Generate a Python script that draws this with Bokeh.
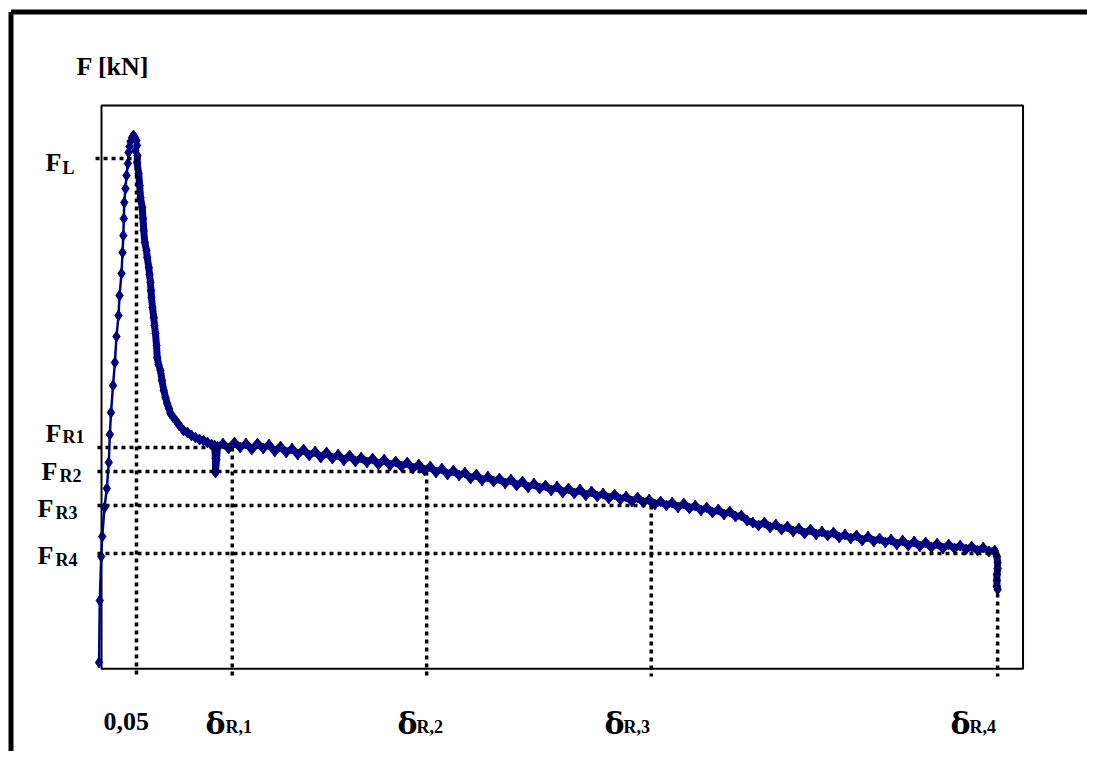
from bokeh.plotting import figure
from bokeh.models import Range1d, ColumnDataSource
from bokeh.core.properties import value
from bokeh.embed import file_html
from bokeh.resources import INLINE

# ---- data: deflection delta [mm] vs load F [kN] ----
rise_x = [-0.002, -0.001, 0.001, 0.0024, 0.0056, 0.0088, 0.0115, 0.013, 0.0146, 0.0174, 0.020,
          0.0222, 0.025, 0.0264, 0.0292, 0.0306, 0.0317, 0.0324, 0.033, 0.0347, 0.0361, 0.038, 0.039]
rise_y = [0.3, 3.4, 5.6, 6.6, 8.05, 9.0, 10.3, 11.7, 12.8, 14.15, 15.3,
          16.6, 17.65, 18.65, 19.75, 20.8, 21.65, 22.5, 23.3, 24.0, 24.65, 25.25, 25.8]

peak_x = [0.0403, 0.0417, 0.0438, 0.0458, 0.0479, 0.05, 0.0507, 0.0486, 0.0514]
peak_y = [26.1, 26.35, 26.55, 26.65, 26.55, 26.4, 26.15, 25.9, 25.65]

desc_x = [0.0508, 0.053, 0.0544, 0.0556, 0.0579, 0.059, 0.0601, 0.0615, 0.0639, 0.0649, 0.0671,
          0.068, 0.0694, 0.0701, 0.0708, 0.0722, 0.074, 0.075, 0.0764, 0.0778, 0.0788, 0.0806,
          0.0833, 0.0854, 0.0879, 0.0903, 0.0926, 0.0951, 0.0972, 0.1014, 0.1056, 0.1097, 0.1153,
          0.1208, 0.1264, 0.1319, 0.1375, 0.1431, 0.1486, 0.1542, 0.1583,
          0.1597, 0.1597, 0.1611, 0.1625]
desc_y = [25.3, 24.75, 24.15, 23.55, 23.05, 22.5, 21.9, 21.3, 20.9, 20.55, 20.05,
          19.7, 19.3, 18.9, 18.55, 18.05, 17.55, 17.15, 16.75, 16.15, 15.55, 15.2,
          14.9, 14.4, 13.9, 13.55, 13.25, 13.0, 12.75, 12.55, 12.35, 12.15, 11.9,
          11.8, 11.65, 11.55, 11.45, 11.4, 11.3, 11.2, 11.15,
          10.5, 9.8, 10.45, 11.1]

plat_x = [0.170, 0.178, 0.186, 0.194, 0.202, 0.210, 0.218, 0.226, 0.234, 0.242,
          0.250, 0.258, 0.266, 0.274, 0.282, 0.290, 0.298, 0.306, 0.314, 0.322,
          0.330, 0.338, 0.346, 0.354, 0.362, 0.370, 0.378, 0.386, 0.394, 0.402,
          0.410, 0.418, 0.426, 0.434, 0.442, 0.450, 0.458, 0.466, 0.474, 0.482,
          0.490, 0.498, 0.506, 0.514, 0.522, 0.530, 0.538, 0.546, 0.554, 0.562,
          0.570, 0.578, 0.586, 0.594, 0.602, 0.610, 0.618, 0.626, 0.634, 0.642,
          0.650, 0.658, 0.666, 0.674, 0.682, 0.690, 0.698, 0.706, 0.714, 0.722,
          0.730, 0.738, 0.746, 0.754, 0.762, 0.770, 0.778, 0.786, 0.794, 0.802,
          0.810, 0.818, 0.826, 0.834, 0.842, 0.850, 0.858, 0.866, 0.874, 0.882,
          0.890, 0.898, 0.906, 0.914, 0.922, 0.930, 0.938, 0.946, 0.954, 0.962,
          0.970, 0.978, 0.986, 0.994, 1.002, 1.010, 1.018, 1.026, 1.034, 1.042,
          1.050, 1.058, 1.066, 1.074, 1.082, 1.090, 1.098, 1.106, 1.114, 1.122,
          1.130, 1.138, 1.146, 1.154, 1.162, 1.170, 1.178, 1.186, 1.194, 1.202,
          1.210, 1.218, 1.226, 1.234, 1.242]
plat_y = [11.25, 11.0, 11.3, 11.05, 11.25, 10.95, 11.25, 11.0, 11.2, 10.85,
          11.1, 10.8, 11.0, 10.7, 10.95, 10.65, 10.85, 10.55, 10.8, 10.5,
          10.7, 10.4, 10.65, 10.35, 10.55, 10.3, 10.5, 10.2, 10.45, 10.15,
          10.35, 10.1, 10.3, 10.0, 10.2, 9.9, 10.1, 9.8, 10.0, 9.7,
          9.9, 9.65, 9.8, 9.5, 9.7, 9.4, 9.6, 9.35, 9.5, 9.25,
          9.45, 9.15, 9.35, 9.05, 9.25, 9.0, 9.15, 8.9, 9.1, 8.8,
          9.0, 8.75, 8.95, 8.65, 8.85, 8.6, 8.75, 8.5, 8.7, 8.45,
          8.6, 8.35, 8.55, 8.3, 8.45, 8.2, 8.35, 8.15, 8.3, 8.05,
          8.25, 8.0, 8.15, 7.9, 8.05, 7.8, 7.95, 7.7, 7.85, 7.6,
          7.65, 7.4, 7.3, 7.15, 7.3, 7.05, 7.2, 6.95, 7.1, 6.85,
          7.0, 6.75, 6.95, 6.7, 6.85, 6.65, 6.8, 6.55, 6.7, 6.5,
          6.65, 6.4, 6.6, 6.35, 6.5, 6.3, 6.45, 6.2, 6.4, 6.15,
          6.35, 6.1, 6.3, 6.05, 6.25, 6.0, 6.2, 6.0, 6.15, 5.95,
          6.1, 5.9, 6.05, 5.85, 5.9]

drop_x = [1.245, 1.246, 1.246, 1.245, 1.245, 1.245, 1.246]
drop_y = [5.6, 5.3, 5.0, 4.7, 4.4, 4.1, 3.95]

# characteristic points
F_L, d_L = 25.5, 0.05
F_R = [11.05, 9.85, 8.15, 5.75]
d_R = [0.183, 0.453, 0.765, 1.246]

assert len(plat_x) == len(plat_y)
curve_x = rise_x + peak_x + desc_x + plat_x + drop_x
curve_y = rise_y + peak_y + desc_y + plat_y + drop_y
dense_x = peak_x[-1:] + desc_x + plat_x + drop_x
dense_y = peak_y[-1:] + desc_y + plat_y + drop_y

# ---- figure: frame covers the whole canvas; 720 px per mm, 20 px per kN ----
X0, X1 = -0.13889, 1.37083
Y0, Y1 = -4.15, 33.4
p = figure(width=1087, height=751, output_backend="svg", toolbar_location=None,
           x_range=Range1d(X0, X1), y_range=Range1d(Y0, Y1),
           x_axis_type=None, y_axis_type=None, min_border=0)
p.outline_line_color = None
p.background_fill_color = "white"
p.border_fill_color = "white"

# outer frame (left and top edges of the page)
p.segment(x0=[-0.1243, -0.1243], y0=[Y0, 32.825], x1=[-0.1243, X1], y1=[32.825, 32.825],
          line_color="black", line_width=5)

# plot box
p.quad(left=[0.0014], right=[1.2813], bottom=[-0.015], top=[28.15],
       fill_color=None, line_color="black", line_width=2)

# curve
NAVY = "#000080"
src = ColumnDataSource(dict(x=curve_x, y=curve_y))
p.line("x", "y", source=src, line_color=NAVY, line_width=2.5)
p.line(dense_x, dense_y, line_color=NAVY, line_width=7, line_join="round")
p.scatter("x", "y", source=src, marker="diamond", size=11,
          fill_color=NAVY, line_color=NAVY)

# dotted guide lines
x_left_L, x_left_R, y_bottom = -0.0069, -0.0042, -0.4
hx0 = [x_left_L] + [x_left_R] * 4
hy = [F_L] + F_R
hx1 = [d_L] + d_R
p.segment(x0=hx0, y0=hy, x1=hx1, y1=hy, line_color="black", line_width=3.5, line_dash="4 4")
vx = [d_L] + d_R
p.segment(x0=vx, y0=hy, x1=vx, y1=[y_bottom] * 5, line_color="black", line_width=3.5, line_dash="4 4")

font = value("Liberation Serif")

def txt(xs, ys, texts, size, fnt=font):
    s = ColumnDataSource(dict(x=xs, y=ys, t=texts))
    p.text("x", "y", text="t", source=s, text_font=fnt, text_font_style="bold",
           text_font_size=size, text_color="black", text_align="left",
           text_baseline="alphabetic")

# main labels
txt([-0.0333], [30.1], ["F [kN]"], "26px")
txt([-0.0764, -0.0764, -0.0819, -0.0875, -0.0875], [25.3, 11.75, 9.85, 8.0, 5.65],
    ["F", "F", "F", "F", "F"], "26px")
txt([-0.0528, -0.0528, -0.0569, -0.0625, -0.0625], [25.05, 11.575, 9.65, 7.8, 5.45],
    ["L", "R1", "R2", "R3", "R4"], "18px")
txt([0.0042], [-2.65], ["0,05"], "26px")
txt([0.1458, 0.4125, 0.7, 1.1806], [-2.75] * 4, ["δ", "δ", "δ", "δ"], "30px", value("DejaVu Serif"))
txt([0.1736, 0.4389, 0.7264, 1.207], [-2.9] * 4, ["R,1", "R,2", "R,3", "R,4"], "18px")

open("out.html", "w").write(file_html(p, INLINE))
